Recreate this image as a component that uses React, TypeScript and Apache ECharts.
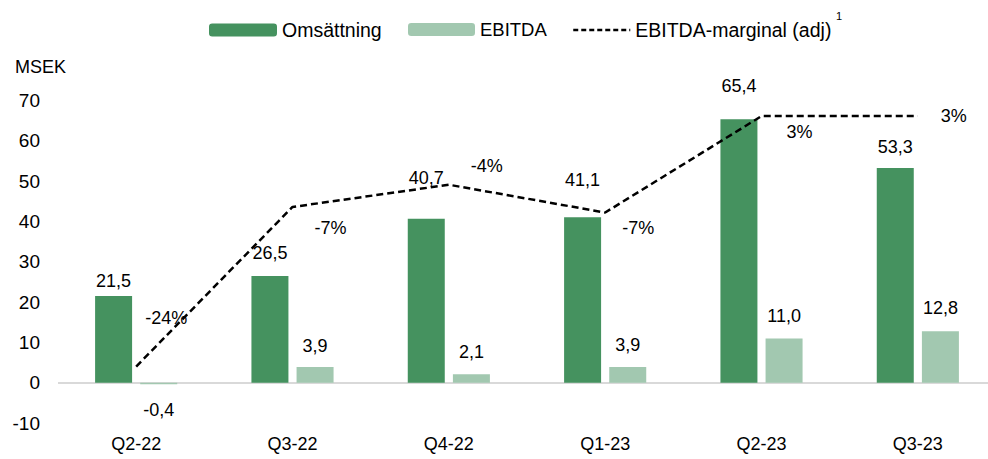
import React, { useEffect, useRef } from "react";
import * as echarts from "echarts";

const categories = ["Q2-22", "Q3-22", "Q4-22", "Q1-23", "Q2-23", "Q3-23"];
const omsattning = [21.5, 26.5, 40.7, 41.1, 65.4, 53.3];
const ebitda = [-0.4, 3.9, 2.1, 3.9, 11.0, 12.8];
const ebitdaMarginal = [-24.0, -6.8, -4.4, -7.4, 3.0, 3.0];

// label placement (styling only)
const omsLabelDistance = [6, 14, 32, 28, 24, 12];
const ebitdaLabelDistance = [17, 12, 13, 13, 13, 14];
const marginLabelOffsets: [number, number][] = [
  [30, -49],
  [38, 21],
  [38, -19],
  [33, 15],
  [38, 16],
  [36, 0],
];
const yTicks = { min: -10, max: 70, interval: 10 };

const FONT = "Liberation Sans, Arial, sans-serif";
const DARK = "#45925F";
const LIGHT = "#A2C8B0";

const fmt = (v: number) => v.toFixed(1).replace(".", ",");

export default function App() {
  const ref = useRef<HTMLDivElement>(null);
  useEffect(() => {
    if (!ref.current) return;
    const chart = echarts.init(ref.current, undefined, { renderer: "svg" });
    const legendCommon = {
      top: 20,
      padding: 0,
      itemHeight: 13,
      selectedMode: false,
      textStyle: { fontFamily: FONT, fontSize: 19.5, color: "#000" },
    };
    chart.setOption({
      animation: false,
      textStyle: { fontFamily: FONT },
      legend: [
        { ...legendCommon, left: 209, itemWidth: 68, data: ["Omsättning"] },
        {
          ...legendCommon,
          left: 408,
          itemWidth: 67,
          textStyle: { ...legendCommon.textStyle, fontSize: 18.5 },
          data: ["EBITDA"],
        },
        {
          ...legendCommon,
          left: 572,
          itemWidth: 57,
          itemStyle: { opacity: 0 },
          lineStyle: { type: [5, 3], width: 2.5 },
          data: ["EBITDA-marginal (adj)"],
        },
      ],
      graphic: [
        {
          type: "text",
          left: 15,
          top: 58,
          style: { text: "MSEK", fontFamily: FONT, fontSize: 18, fill: "#000" },
        },
        {
          type: "text",
          left: 836,
          top: 10,
          style: { text: "1", fontFamily: FONT, fontSize: 11, fill: "#000" },
        },
      ],
      grid: {
        left: 58,
        top: 100.7,
        width: 938,
        height: 322.3,
        outerBoundsMode: "none",
      },
      xAxis: {
        type: "category",
        data: categories,
        axisLine: { show: false, onZero: false },
        axisTick: { show: false },
        axisLabel: { fontFamily: FONT, fontSize: 18, color: "#000", margin: 12 },
      },
      yAxis: [
        {
          type: "value",
          min: yTicks.min,
          max: yTicks.max,
          interval: yTicks.interval,
          splitLine: { show: false },
          axisLine: { show: false },
          axisTick: { show: false },
          axisLabel: { fontFamily: FONT, fontSize: 19, color: "#000", margin: 18 },
        },
        {
          type: "value",
          min: -30.09,
          max: 4.66,
          show: false,
          splitLine: { show: false },
        },
      ],
      series: [
        {
          name: "Omsättning",
          type: "bar",
          data: omsattning.map((v, i) => ({
            value: v,
            label: { distance: omsLabelDistance[i] },
          })),
          barWidth: 37,
          barGap: "22%",
          itemStyle: { color: DARK },
          label: {
            show: true,
            position: "top",
            fontFamily: FONT,
            fontSize: 18,
            color: "#000",
            formatter: (p: any) => fmt(p.value),
          },
          markLine: {
            silent: true,
            symbol: "none",
            label: { show: false },
            lineStyle: { color: "#D9D9D9", width: 2, type: "solid" },
            data: [{ yAxis: 0 }],
            z: 1,
          },
        },
        {
          name: "EBITDA",
          type: "bar",
          data: ebitda.map((v, i) => ({
            value: v,
            label: {
              position: v < 0 ? "bottom" : "top",
              distance: ebitdaLabelDistance[i],
            },
          })),
          barWidth: 37,
          itemStyle: { color: LIGHT },
          label: {
            show: true,
            position: "top",
            fontFamily: FONT,
            fontSize: 18,
            color: "#000",
            formatter: (p: any) => fmt(p.value),
          },
        },
        {
          name: "EBITDA-marginal (adj)",
          type: "line",
          yAxisIndex: 1,
          data: ebitdaMarginal.map((v, i) => ({
            value: v,
            label: { offset: marginLabelOffsets[i] },
          })),
          symbol: "circle",
          symbolSize: 0,
          showSymbol: true,
          itemStyle: { color: "#000" },
          lineStyle: { color: "#000", width: 2.5, type: [7, 4] },
          label: {
            show: true,
            position: "inside",
            align: "center",
            verticalAlign: "middle",
            fontFamily: FONT,
            fontSize: 18,
            color: "#000",
            formatter: (p: any) => Math.round(p.value) + "%",
          },
          z: 5,
        },
      ],
    });
    return () => chart.dispose();
  }, []);
  return (
    <div
      ref={ref}
      style={{ position: "absolute", left: 0, top: 0, width: 988, height: 459 }}
    />
  );
}
